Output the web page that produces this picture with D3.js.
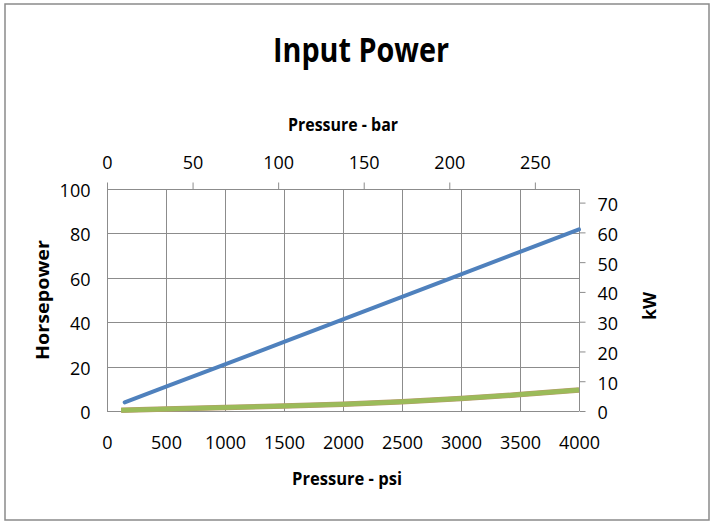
<!DOCTYPE html>
<html>
<head>
<meta charset="utf-8">
<script src="https://cdn.jsdelivr.net/npm/d3@7"></script>
<style>
    html, body { margin: 0; padding: 0; background: #fff; }
    svg text { font-family: "Open Sans", "Liberation Sans", sans-serif; fill: #000; }
</style>
</head>
<body>
<svg id="chart" width="710" height="521"></svg>
<script>
// values
var psiBlue = [150, 500, 1000, 1500, 2000, 2500, 3000, 3500, 4000];
var hpBlue  = [3.9, 11.0, 21.0, 31.1, 41.3, 51.4, 61.5, 71.7, 81.8];
var psiGreen = [120, 500, 1000, 1500, 2000, 2500, 3000, 3500, 4000];
var hpGreen  = [0.3, 0.9, 1.6, 2.2, 3.0, 4.2, 5.6, 7.4, 9.5];

var psiTicks = [0, 500, 1000, 1500, 2000, 2500, 3000, 3500, 4000];
var barTicks = [0, 50, 100, 150, 200, 250];
var hpTicks  = [0, 20, 40, 60, 80, 100];
var kwTicks  = [0, 10, 20, 30, 40, 50, 60, 70];

var PSI_TO_BAR = 0.0689476,
    HP_TO_KW = 0.7457;

(function(){
    var plot = {left: 107, right: 579, top: 189, bottom: 411};
    var gridCol = '#8c8c8c',
        blue = '#4f81bd',
        green = '#9bbb59';
    var fmt = d3.format('d');

    var svg = d3.select('#chart');

    // outer frame
    svg.append('rect')
        .attr('x', 5).attr('y', 4)
        .attr('width', 704).attr('height', 516)
        .style('fill', '#fff')
        .style('stroke', '#8a8a8a')
        .style('stroke-width', 1.5);

    var x = d3.scaleLinear().domain([0, 4000]).range([plot.left, plot.right]);
    var xBar = d3.scaleLinear().domain([0, 4000 * PSI_TO_BAR]).range([plot.left, plot.right]);
    var y = d3.scaleLinear().domain([0, 100]).range([plot.bottom, plot.top]);
    var yKw = d3.scaleLinear().domain([0, 100 * HP_TO_KW]).range([plot.bottom, plot.top]);

    // grid
    var grid = svg.append('g').attr('class', 'grid');
    grid.selectAll('.vl').data(psiTicks).enter().append('line')
        .attr('x1', function(d){ return Math.round(x(d)) + 0.5 })
        .attr('x2', function(d){ return Math.round(x(d)) + 0.5 })
        .attr('y1', plot.top).attr('y2', plot.bottom)
        .style('stroke', gridCol);
    grid.selectAll('.hl').data(hpTicks).enter().append('line')
        .attr('x1', plot.left).attr('x2', plot.right)
        .attr('y1', function(d){ return Math.round(y(d)) + 0.5 })
        .attr('y2', function(d){ return Math.round(y(d)) + 0.5 })
        .style('stroke', gridCol);

    // axes
    var gBottom = svg.append('g')
        .attr('transform', 'translate(0,' + (plot.bottom + 0.5) + ')')
        .call(d3.axisBottom(x).tickValues(psiTicks).tickFormat(fmt).tickSize(0).tickPadding(25));

    var gLeft = svg.append('g')
        .attr('transform', 'translate(' + (plot.left + 0.5) + ',0)')
        .call(d3.axisLeft(y).tickValues(hpTicks).tickFormat(fmt).tickSize(0).tickPadding(17));
    gLeft.selectAll('text').attr('dy', '0.42em');

    var gRight = svg.append('g')
        .attr('transform', 'translate(' + (plot.right + 0.5) + ',0)')
        .call(d3.axisRight(yKw).tickValues(kwTicks).tickFormat(fmt).tickSize(6).tickSizeOuter(0).tickPadding(12));
    gRight.selectAll('text').attr('dy', '0.44em');

    var gTop = svg.append('g')
        .attr('transform', 'translate(0,' + (plot.top + 0.5) + ')')
        .call(d3.axisTop(xBar).tickValues(barTicks).tickFormat(fmt).tickSize(7).tickSizeOuter(0).tickPadding(14));

    [gBottom, gLeft, gRight, gTop].forEach(function(g){
        g.select('.domain').style('stroke', gridCol);
        g.selectAll('.tick line').style('stroke', gridCol);
        g.selectAll('.tick text')
            .style('font-family', '"Open Sans", sans-serif')
            .style('font-size', '18px')
            .style('fill', '#000');
    });
    gBottom.select('.domain').remove();
    gLeft.select('.domain').remove();
    // keep the top & right axis lines within the plot
    gTop.select('.domain').attr('d', 'M' + plot.left + ',0H' + plot.right);
    gRight.select('.domain').attr('d', 'M0,' + plot.bottom + 'V' + plot.top);

    // series
    var line = d3.line()
        .x(function(d){ return x(d[0]) })
        .y(function(d){ return y(d[1]) });

    var greenData = d3.zip(psiGreen, hpGreen);
    var blueData = d3.zip(psiBlue, hpBlue);

    // brownish fringe under the green curve
    svg.append('path').datum(greenData)
        .attr('d', line)
        .style('fill', 'none')
        .style('stroke', '#b59a6a')
        .style('stroke-width', 5.5);
    svg.append('path').datum(greenData)
        .attr('d', line)
        .style('fill', 'none')
        .style('stroke', green)
        .style('stroke-width', 4.5);

    svg.append('path').datum(blueData)
        .attr('d', line)
        .style('fill', 'none')
        .style('stroke', blue)
        .style('stroke-width', 4)
        .style('stroke-linecap', 'round');

    // titles
    function label(txt, px, py, size, len, rot){
        var t = svg.append('text')
            .attr('text-anchor', 'middle')
            .style('font-weight', 'bold')
            .style('font-size', size + 'px')
            .attr('textLength', len)
            .attr('lengthAdjust', 'spacingAndGlyphs')
            .text(txt);
        if (rot) t.attr('transform', 'translate(' + px + ',' + py + ') rotate(-90)');
        else t.attr('x', px).attr('y', py);
        return t;
    }

    label('Input Power', 361, 62, 34, 176);
    label('Pressure - bar', 343, 131, 17, 110);
    label('Pressure - psi', 347, 485, 17, 110);
    label('Horsepower', 49, 300, 17, 120, true);
    label('kW', 656, 306, 18, 28, true);

})();
</script>
</body>
</html>
